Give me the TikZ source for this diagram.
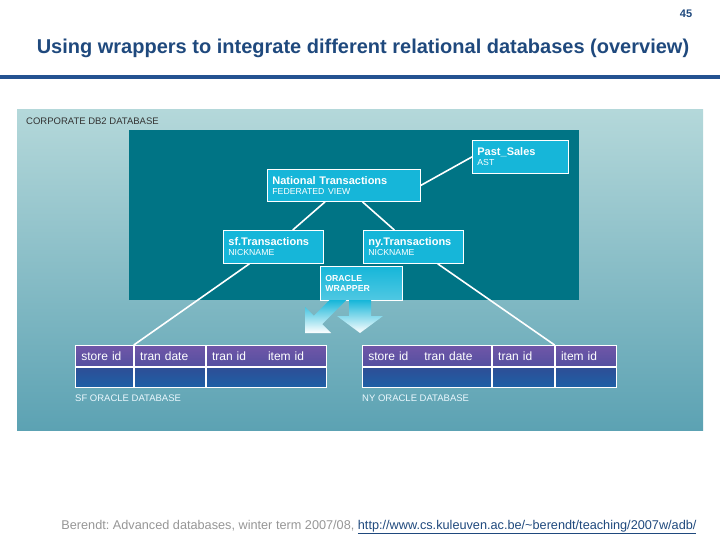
\documentclass[tikz,border=0pt]{standalone}
\usepackage{fontspec}
\setmainfont{Liberation Sans}
\usetikzlibrary{positioning}

\definecolor{navy}{RGB}{31,73,125}
\definecolor{rulebl}{RGB}{36,82,145}
\definecolor{paneltop}{RGB}{180,216,218}
\definecolor{panelbot}{RGB}{92,162,179}
\definecolor{dbteal}{RGB}{0,116,133}
\definecolor{objcyan}{RGB}{22,182,217}
\definecolor{hdrtop}{RGB}{112,86,168}
\definecolor{hdrbot}{RGB}{84,80,160}
\definecolor{rowtop}{RGB}{46,78,150}
\definecolor{rowbot}{RGB}{30,96,166}
\definecolor{footgray}{RGB}{150,150,150}

\newcommand{\objlbl}[2]{{\bfseries #1}\\{\fontsize{8.7}{9}\selectfont #2}}

\begin{document}
\frenchspacing
\begin{tikzpicture}[
  x=1pt, y=-1pt,
  objbox/.style={draw=white, line width=0.8pt, fill=objcyan, text=white,
    anchor=north west, align=left, inner xsep=5pt, inner ysep=0pt,
    font=\fontsize{11}{10}\selectfont},
  wire/.style={white, line width=1.6pt},
  hdr/.style={draw=white, line width=0.8pt, top color=hdrtop, bottom color=hdrbot,
    text=white, minimum height=21pt, inner xsep=6pt, inner ysep=0pt, align=left,
    font=\fontsize{12}{12}\selectfont},
  row/.style={draw=white, line width=0.8pt, top color=rowtop, bottom color=rowbot,
    minimum height=20pt, inner sep=0pt},
  dblbl/.style={anchor=west, inner sep=0pt, font=\fontsize{9.5}{9.5}\selectfont},
  bigarrow/.style={top color=objcyan, bottom color=white, draw=none},
]

\useasboundingbox (0,0) rectangle (720,540);

% ===== Slide header ============================================================
\node[text=navy, font=\fontsize{11}{11}\selectfont\bfseries] (pageno) at (686,14) {45};
\node[text=navy, font=\fontsize{20}{22}\selectfont\bfseries] (title) at (363,48)
  {Using wrappers to integrate different relational databases (overview)};
\draw[rulebl, line width=4pt] (0,77) -- (720,77);

% ===== Background panels =======================================================
\shade[top color=paneltop, bottom color=panelbot] (17,110) rectangle (703,430);
\fill[dbteal] (129,130) rectangle (579,300);
\node[dblbl, text=black!80, anchor=west] (corp) at (26,121) {CORPORATE DB2 DATABASE};

% ===== Federated objects =======================================================
\node[objbox, text width=86pt, minimum height=33pt] (past) at (472,140)
  {\objlbl{Past\_Sales}{AST}};
\node[objbox, text width=143pt, minimum height=32pt] (natl) at (267,169)
  {\objlbl{National Transactions}{FEDERATED VIEW}};
\node[objbox, text width=90pt, minimum height=33pt] (sftr) at (223,230)
  {\objlbl{sf.Transactions}{NICKNAME}};
\node[objbox, text width=90pt, minimum height=33pt] (nytr) at (363,230)
  {\objlbl{ny.Transactions}{NICKNAME}};
\node[objbox, text width=72pt, minimum height=34pt, fill=none,
      top color=objcyan, bottom color=objcyan!75!white,
      font=\fontsize{8.7}{9.5}\selectfont\bfseries] (wrap) at (320,266)
  {ORACLE\\WRAPPER};

% Wrapper arrows
\shade[bigarrow] (305,333) -- (305,307) -- (313.8,315.8) -- (329.6,300)
  -- (346.4,300) -- (322.2,324.2) -- (331,333) -- cycle;
\shade[bigarrow] (349,300) -- (371,300) -- (371,316) -- (383,316)
  -- (360,333) -- (337,316) -- (349,316) -- cycle;

% ===== SF ORACLE DATABASE ======================================================
\node[hdr, text width=46pt, anchor=north west] (sfstore) at (75,345) {store id};
\node[hdr, text width=59pt, right=0pt of sfstore] (sfdate) {tran date};
\node[hdr, text width=108pt, right=0pt of sfdate] (sftran) {tran id\hspace{22pt}item id};
\node[row, minimum width=58pt, below=0pt of sfstore] (sfstorev) {};
\node[row, minimum width=71pt, below=0pt of sfdate] (sfdatev) {};
\node[row, minimum width=120pt, below=0pt of sftran] (sftranv) {};
\node[dblbl, text=white!92!cyan] (sfdb) at (75,398) {SF ORACLE DATABASE};

% ===== NY ORACLE DATABASE ======================================================
\node[hdr, text width=117pt, anchor=north west] (nystore) at (362,345)
  {store id\hspace{16pt}tran date};
\node[hdr, text width=50pt, right=0pt of nystore] (nytran) {tran id};
\node[hdr, text width=49pt, right=0pt of nytran] (nyitem) {item id};
\node[row, minimum width=129pt, below=0pt of nystore] (nystorev) {};
\node[row, minimum width=62pt, below=0pt of nytran] (nytranv) {};
\node[row, minimum width=61pt, below=0pt of nyitem] (nyitemv) {};
\node[dblbl, text=white!92!cyan] (nydb) at (362,398) {NY ORACLE DATABASE};

% ===== Connectors ==============================================================
\draw[wire] (natl.east) -- (past.west);
\draw[wire] (natl) -- (sftr);
\draw[wire] (natl) -- (nytr);
\draw[wire] (sftr) -- (sfstore.north east);
\draw[wire] (nytr) -- (nytran.north east);

% ===== Footer ==================================================================
\node[anchor=east, font=\fontsize{12.7}{13}\selectfont] (foot) at (700,527)
  {\textcolor{footgray}{Berendt: Advanced databases, winter term 2007/08,}
   \textcolor{navy}{\underline{http://www.cs.kuleuven.ac.be/\textasciitilde berendt/teaching/2007w/adb/}}};

\end{tikzpicture}
\end{document}
